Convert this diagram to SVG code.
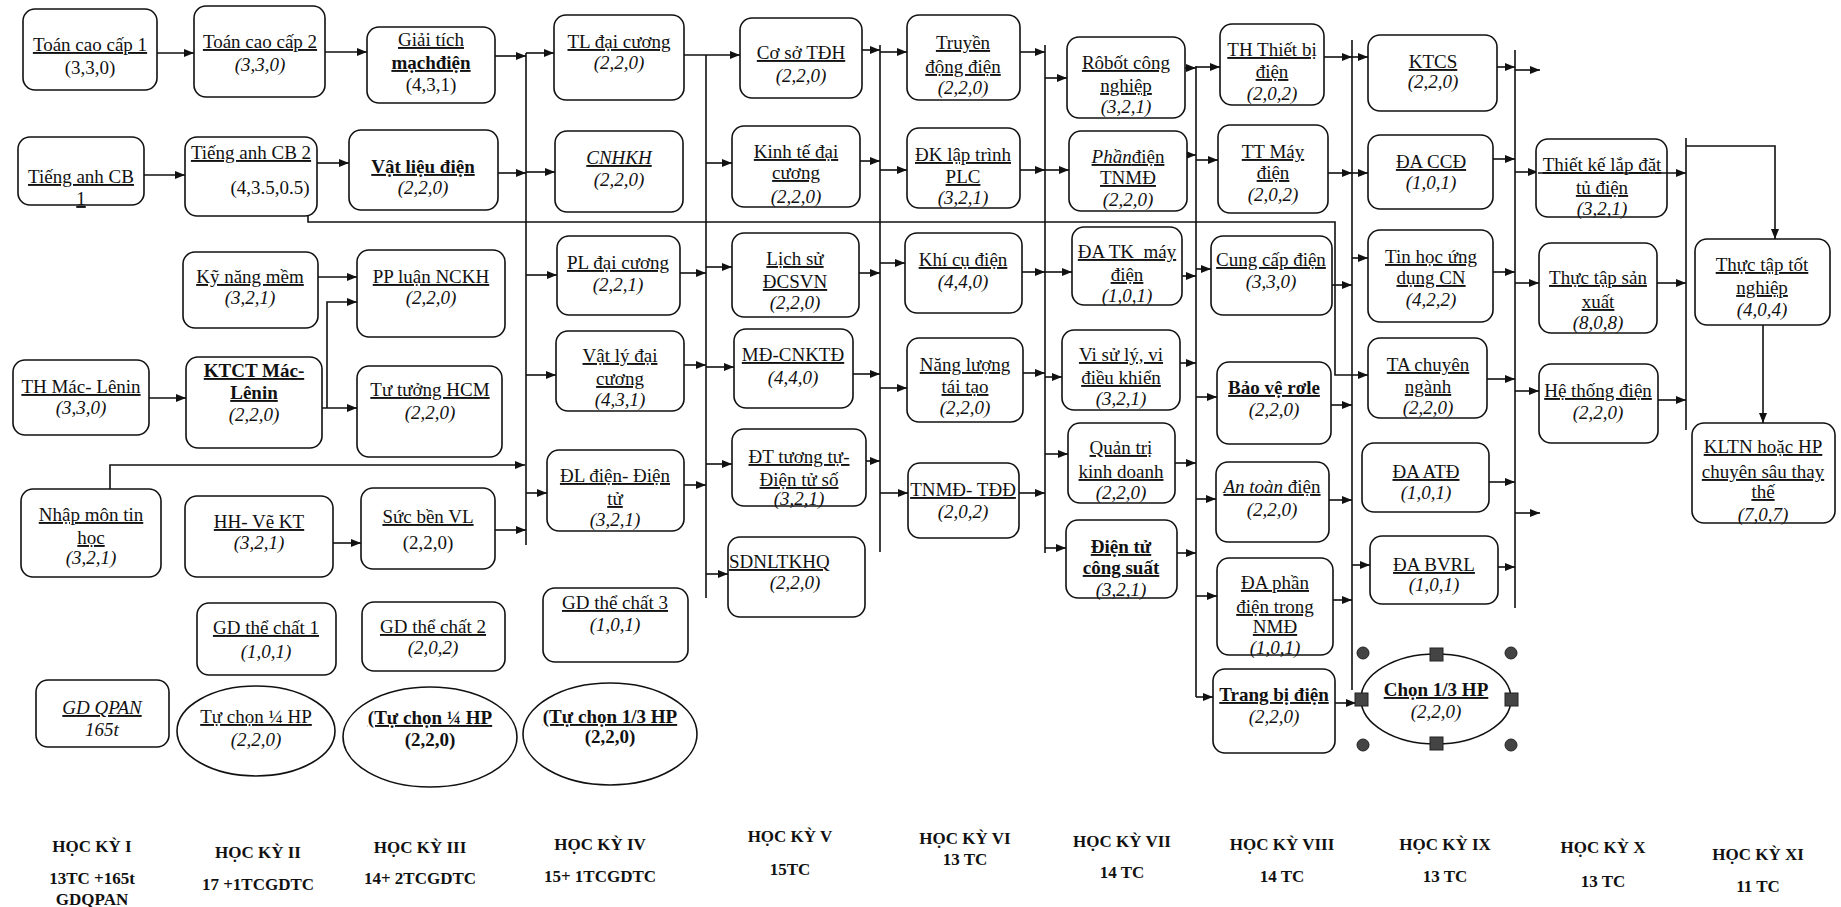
<svg xmlns="http://www.w3.org/2000/svg" width="1841" height="907" viewBox="0 0 1841 907">
<style>
.b{fill:#fff;stroke:#111;stroke-width:1.6}
.t{font-family:"Liberation Serif","Times New Roman",serif;font-size:19px;text-anchor:middle;fill:#111}
.u{text-decoration:underline}
.i{font-style:italic}
.bd{font-weight:bold}
.c{fill:none;stroke:#111;stroke-width:1.6}
.s{font-family:"Liberation Serif","Times New Roman",serif;font-size:17px;font-weight:bold;text-anchor:middle;fill:#111}
.h{fill:#444;stroke:#222;stroke-width:1}
</style>
<defs>
<marker id="a" viewBox="0 0 10 8" refX="10" refY="4" markerWidth="11" markerHeight="8" orient="auto" markerUnits="userSpaceOnUse"><path d="M0,0 L10,4 L0,8 z" fill="#111"/></marker>
</defs>
<rect width="1841" height="907" fill="#fff"/>
<g id="connectors">
<path class="c" d="M526,53 V545 M706,55 V598 M880,45 V552 M1045,45 V553 M1196,66 V697 M1352,40 V690 M1515,50 V608 M1686,138 V430"/>
<path class="c" marker-end="url(#a)" d="M157,53 H194"/>
<path class="c" marker-end="url(#a)" d="M325,52 H367"/>
<path class="c" marker-end="url(#a)" d="M144,175 H185"/>
<path class="c" marker-end="url(#a)" d="M317,163 H349"/>
<path class="c" marker-end="url(#a)" d="M318,277 H357"/>
<path class="c" marker-end="url(#a)" d="M149,398 H186"/>
<path class="c" marker-end="url(#a)" d="M322,408 H357"/>
<path class="c" marker-end="url(#a)" d="M327,408 V302 H357"/>
<path class="c" marker-end="url(#a)" d="M333,543 H361"/>
<path class="c" marker-end="url(#a)" d="M110,489 V465 H525"/>
<path class="c" marker-end="url(#a)" d="M495,56 H526"/>
<path class="c" marker-end="url(#a)" d="M498,173 H526"/>
<path class="c" marker-end="url(#a)" d="M495,530 H526"/>
<path class="c" marker-end="url(#a)" d="M526,53 H554"/>
<path class="c" marker-end="url(#a)" d="M526,172 H555"/>
<path class="c" marker-end="url(#a)" d="M526,275 H557"/>
<path class="c" marker-end="url(#a)" d="M526,375 H556"/>
<path class="c" marker-end="url(#a)" d="M526,493 H547"/>
<path class="c" marker-end="url(#a)" d="M684,55 H740"/>
<path class="c" marker-end="url(#a)" d="M680,273 H706"/>
<path class="c" marker-end="url(#a)" d="M684,365 H706"/>
<path class="c" marker-end="url(#a)" d="M684,485 H706"/>
<path class="c" marker-end="url(#a)" d="M706,163 H732"/>
<path class="c" marker-end="url(#a)" d="M706,267 H732"/>
<path class="c" marker-end="url(#a)" d="M706,367 H734"/>
<path class="c" marker-end="url(#a)" d="M706,464 H732"/>
<path class="c" marker-end="url(#a)" d="M706,574 H728"/>
<path class="c" marker-end="url(#a)" d="M862,50 H880"/>
<path class="c" marker-end="url(#a)" d="M880,52 H907"/>
<path class="c" marker-end="url(#a)" d="M860,161 H880"/>
<path class="c" marker-end="url(#a)" d="M880,170 H907"/>
<path class="c" marker-end="url(#a)" d="M859,273 H880"/>
<path class="c" marker-end="url(#a)" d="M880,263 H905"/>
<path class="c" marker-end="url(#a)" d="M853,374 H880"/>
<path class="c" marker-end="url(#a)" d="M880,388 H907"/>
<path class="c" marker-end="url(#a)" d="M866,461 H880"/>
<path class="c" marker-end="url(#a)" d="M880,493 H908"/>
<path class="c" marker-end="url(#a)" d="M1020,52 H1045"/>
<path class="c" marker-end="url(#a)" d="M1045,78 H1067"/>
<path class="c" marker-end="url(#a)" d="M1020,170 H1045"/>
<path class="c" marker-end="url(#a)" d="M1045,170 H1069"/>
<path class="c" marker-end="url(#a)" d="M1022,272 H1045"/>
<path class="c" marker-end="url(#a)" d="M1045,272 H1072"/>
<path class="c" marker-end="url(#a)" d="M1023,373 H1045"/>
<path class="c" marker-end="url(#a)" d="M1045,377 H1062"/>
<path class="c" marker-end="url(#a)" d="M1019,493 H1045"/>
<path class="c" marker-end="url(#a)" d="M1045,454 H1068"/>
<path class="c" marker-end="url(#a)" d="M1045,548 H1066"/>
<path class="c" marker-end="url(#a)" d="M1185,68 H1196"/>
<path class="c" marker-end="url(#a)" d="M1196,67 H1220"/>
<path class="c" marker-end="url(#a)" d="M1187,155 H1196"/>
<path class="c" marker-end="url(#a)" d="M1196,160 H1218"/>
<path class="c" marker-end="url(#a)" d="M1182,276 H1196"/>
<path class="c" marker-end="url(#a)" d="M1196,269 H1211"/>
<path class="c" marker-end="url(#a)" d="M1180,363 H1196"/>
<path class="c" marker-end="url(#a)" d="M1196,397 H1217"/>
<path class="c" marker-end="url(#a)" d="M1175,463 H1196"/>
<path class="c" marker-end="url(#a)" d="M1196,499 H1216"/>
<path class="c" marker-end="url(#a)" d="M1177,553 H1196"/>
<path class="c" marker-end="url(#a)" d="M1196,596 H1217"/>
<path class="c" marker-end="url(#a)" d="M1196,697 H1213"/>
<path class="c" marker-end="url(#a)" d="M1324,57 H1352"/>
<path class="c" marker-end="url(#a)" d="M1352,57 H1368"/>
<path class="c" marker-end="url(#a)" d="M1328,173 H1352"/>
<path class="c" marker-end="url(#a)" d="M1352,173 H1368"/>
<path class="c" marker-end="url(#a)" d="M1332,285 H1352"/>
<path class="c" marker-end="url(#a)" d="M1352,258 H1368"/>
<path class="c" marker-end="url(#a)" d="M1331,405 H1352"/>
<path class="c" marker-end="url(#a)" d="M1329,500 H1352"/>
<path class="c" marker-end="url(#a)" d="M1333,600 H1352"/>
<path class="c" marker-end="url(#a)" d="M1352,565 H1370"/>
<path class="c" marker-end="url(#a)" d="M308,216 V222 H1335 V375 H1368"/>
<path class="c" marker-end="url(#a)" d="M1335,703 H1356"/>
<path class="c" marker-end="url(#a)" d="M1497,67 H1515"/>
<path class="c" marker-end="url(#a)" d="M1515,70 H1540"/>
<path class="c" marker-end="url(#a)" d="M1493,159 H1515"/>
<path class="c" marker-end="url(#a)" d="M1515,172 H1538"/>
<path class="c" marker-end="url(#a)" d="M1493,272 H1515"/>
<path class="c" marker-end="url(#a)" d="M1515,283 H1539"/>
<path class="c" marker-end="url(#a)" d="M1487,379 H1515"/>
<path class="c" marker-end="url(#a)" d="M1515,391 H1539"/>
<path class="c" marker-end="url(#a)" d="M1489,482 H1515"/>
<path class="c" marker-end="url(#a)" d="M1515,513 H1540"/>
<path class="c" marker-end="url(#a)" d="M1498,567 H1515"/>
<path class="c" marker-end="url(#a)" d="M1657,283 H1686"/>
<path class="c" marker-end="url(#a)" d="M1658,400 H1686"/>
<path class="c" marker-end="url(#a)" d="M1686,146 H1775 V239"/>
<path class="c" marker-end="url(#a)" d="M1763,325 V423"/>
</g>
<g id="n1"><rect class="b" x="23" y="9" width="134" height="81" rx="12"/><text class="t u" x="90" y="51">Toán cao cấp 1</text><text class="t" x="90" y="74">(3,3,0)</text></g>
<g id="n2"><rect class="b" x="194" y="6" width="131" height="91" rx="12"/><text class="t u" x="260" y="48">Toán cao cấp 2</text><text class="t i" x="260" y="71">(3,3,0)</text></g>
<g id="n3"><rect class="b" x="367" y="27" width="128" height="76" rx="12"/><text class="t u" x="431" y="46">Giải tích</text><text class="t u bd" x="431" y="69">mạchđiện</text><text class="t" x="431" y="91">(4,3,1)</text></g>
<g id="n4"><rect class="b" x="18" y="137" width="126" height="68" rx="12"/><text class="t u" x="81" y="183">Tiếng anh CB</text><text class="t u" x="81" y="205">1</text></g>
<g id="n5"><rect class="b" x="185" y="137" width="132" height="79" rx="12"/><text class="t u" x="251" y="159">Tiếng anh CB 2</text><text class="t" x="270" y="194">(4,3.5,0.5)</text></g>
<g id="n6"><rect class="b" x="349" y="130" width="149" height="80" rx="12"/><text class="t u bd" x="423" y="173">Vật liệu điện</text><text class="t i" x="423" y="194">(2,2,0)</text></g>
<g id="n7"><rect class="b" x="183" y="252" width="135" height="76" rx="12"/><text class="t u" x="250" y="283">Kỹ năng mềm</text><text class="t i" x="250" y="304">(3,2,1)</text></g>
<g id="n8"><rect class="b" x="357" y="250" width="148" height="87" rx="12"/><text class="t u" x="431" y="283">PP luận NCKH</text><text class="t i" x="431" y="304">(2,2,0)</text></g>
<g id="n9"><rect class="b" x="13" y="360" width="136" height="75" rx="12"/><text class="t u" x="81" y="393">TH Mác- Lênin</text><text class="t i" x="81" y="414">(3,3,0)</text></g>
<g id="n10"><rect class="b" x="186" y="357" width="136" height="91" rx="12"/><text class="t u bd" x="254" y="377">KTCT Mác-</text><text class="t u bd" x="254" y="399">Lênin</text><text class="t i" x="254" y="421">(2,2,0)</text></g>
<g id="n11"><rect class="b" x="357" y="366" width="145" height="91" rx="12"/><text class="t u" x="430" y="396">Tư tưởng HCM</text><text class="t i" x="430" y="419">(2,2,0)</text></g>
<g id="n12"><rect class="b" x="21" y="489" width="140" height="88" rx="12"/><text class="t u" x="91" y="521">Nhập môn tin</text><text class="t u" x="91" y="544">học</text><text class="t i" x="91" y="564">(3,2,1)</text></g>
<g id="n13"><rect class="b" x="185" y="496" width="148" height="81" rx="12"/><text class="t u" x="259" y="528">HH- Vẽ KT</text><text class="t i" x="259" y="549">(3,2,1)</text></g>
<g id="n14"><rect class="b" x="361" y="488" width="134" height="81" rx="12"/><text class="t u" x="428" y="523">Sức bền VL</text><text class="t" x="428" y="549">(2,2,0)</text></g>
<g id="n15"><rect class="b" x="197" y="603" width="139" height="72" rx="12"/><text class="t u" x="266" y="634">GD thể chất 1</text><text class="t i" x="266" y="658">(1,0,1)</text></g>
<g id="n16"><rect class="b" x="362" y="602" width="143" height="69" rx="12"/><text class="t u" x="433" y="633">GD thể chất 2</text><text class="t i" x="433" y="654">(2,0,2)</text></g>
<g id="n17"><rect class="b" x="36" y="680" width="133" height="67" rx="12"/><text class="t u i" x="102" y="714">GD QPAN</text><text class="t i" x="102" y="736">165t</text></g>
<g id="n18"><ellipse class="b" cx="256" cy="731" rx="79" ry="45"/><text class="t u" x="256" y="723">Tự chọn ¼ HP</text><text class="t i" x="256" y="746">(2,2,0)</text></g>
<g id="n19"><ellipse class="b" cx="430" cy="737" rx="87" ry="50"/><text class="t u bd" x="430" y="724">(Tự chọn ¼ HP</text><text class="t bd" x="430" y="746">(2,2,0)</text></g>
<g id="n20"><ellipse class="b" cx="610" cy="734" rx="87" ry="51"/><text class="t u bd" x="610" y="723">(Tự chọn 1/3 HP</text><text class="t bd" x="610" y="743">(2,2,0)</text></g>
<g id="n21"><rect class="b" x="554" y="15" width="130" height="85" rx="12"/><text class="t u" x="619" y="48">TL đại cương</text><text class="t i" x="619" y="69">(2,2,0)</text></g>
<g id="n22"><rect class="b" x="555" y="131" width="128" height="81" rx="12"/><text class="t u i" x="619" y="164">CNHKH</text><text class="t i" x="619" y="186">(2,2,0)</text></g>
<g id="n23"><rect class="b" x="557" y="236" width="123" height="79" rx="12"/><text class="t u" x="618" y="269">PL đại cương</text><text class="t i" x="618" y="291">(2,2,1)</text></g>
<g id="n24"><rect class="b" x="556" y="331" width="128" height="80" rx="12"/><text class="t u" x="620" y="362">Vật lý đại</text><text class="t u" x="620" y="385">cương</text><text class="t i" x="620" y="406">(4,3,1)</text></g>
<g id="n25"><rect class="b" x="547" y="450" width="137" height="81" rx="12"/><text class="t u" x="615" y="482">ĐL điện- Điện</text><text class="t u" x="615" y="505">tử</text><text class="t i" x="615" y="526">(3,2,1)</text></g>
<g id="n26"><rect class="b" x="543" y="588" width="145" height="74" rx="12"/><text class="t u" x="615" y="609">GD thể chất 3</text><text class="t i" x="615" y="631">(1,0,1)</text></g>
<g id="n27"><rect class="b" x="740" y="18" width="122" height="80" rx="12"/><text class="t u" x="801" y="59">Cơ sở TĐH</text><text class="t i" x="801" y="82">(2,2,0)</text></g>
<g id="n28"><rect class="b" x="732" y="126" width="128" height="81" rx="12"/><text class="t u" x="796" y="158">Kinh tế đại</text><text class="t u" x="796" y="179">cương</text><text class="t i" x="796" y="203">(2,2,0)</text></g>
<g id="n29"><rect class="b" x="732" y="233" width="127" height="84" rx="12"/><text class="t u" x="795" y="265">Lịch sử</text><text class="t u" x="795" y="288">ĐCSVN</text><text class="t i" x="795" y="309">(2,2,0)</text></g>
<g id="n30"><rect class="b" x="734" y="329" width="119" height="79" rx="12"/><text class="t u" x="793" y="361">MĐ-CNKTĐ</text><text class="t i" x="793" y="384">(4,4,0)</text></g>
<g id="n31"><rect class="b" x="732" y="429" width="134" height="77" rx="12"/><text class="t u" x="799" y="463">ĐT tương tự-</text><text class="t u" x="799" y="486">Điện tử số</text><text class="t i" x="799" y="505">(3,2,1)</text></g>
<g id="n32"><rect class="b" x="728" y="537" width="137" height="80" rx="12"/><text class="t u" x="729" y="568" style="text-anchor:start">SDNLTKHQ</text><text class="t i" x="795" y="589">(2,2,0)</text></g>
<g id="n33"><rect class="b" x="907" y="15" width="113" height="85" rx="12"/><text class="t u" x="963" y="49">Truyền</text><text class="t u" x="963" y="73">động điện</text><text class="t i" x="963" y="94">(2,2,0)</text></g>
<g id="n34"><rect class="b" x="907" y="128" width="113" height="80" rx="12"/><text class="t u" x="963" y="161">ĐK lập trình</text><text class="t u" x="963" y="183">PLC</text><text class="t i" x="963" y="204">(3,2,1)</text></g>
<g id="n35"><rect class="b" x="905" y="233" width="117" height="80" rx="12"/><text class="t u" x="963" y="266">Khí cụ điện</text><text class="t i" x="963" y="288">(4,4,0)</text></g>
<g id="n36"><rect class="b" x="907" y="338" width="116" height="84" rx="12"/><text class="t u" x="965" y="371">Năng lượng</text><text class="t u" x="965" y="393">tái tạo</text><text class="t i" x="965" y="414">(2,2,0)</text></g>
<g id="n37"><rect class="b" x="908" y="463" width="111" height="75" rx="12"/><text class="t u" x="963" y="496">TNMĐ- TĐĐ</text><text class="t i" x="963" y="518">(2,0,2)</text></g>
<g id="n38"><rect class="b" x="1067" y="37" width="118" height="81" rx="12"/><text class="t u" x="1126" y="69">Rôbốt công</text><text class="t u" x="1126" y="92">nghiệp</text><text class="t i" x="1126" y="113">(3,2,1)</text></g>
<g id="n39"><rect class="b" x="1069" y="131" width="118" height="80" rx="12"/><text class="t u" x="1128" y="163"><tspan class="i">Phần</tspan>điện</text><text class="t u" x="1128" y="184">TNMĐ</text><text class="t i" x="1128" y="206">(2,2,0)</text></g>
<g id="n40"><rect class="b" x="1072" y="227" width="110" height="78" rx="12"/><text class="t u" x="1127" y="258" style="white-space:pre">ĐA TK  máy</text><text class="t u" x="1127" y="281">điện</text><text class="t i" x="1127" y="302">(1,0,1)</text></g>
<g id="n41"><rect class="b" x="1062" y="330" width="118" height="80" rx="12"/><text class="t u" x="1121" y="361">Vi sử lý, vi</text><text class="t u" x="1121" y="384">điều khiển</text><text class="t i" x="1121" y="405">(3,2,1)</text></g>
<g id="n42"><rect class="b" x="1068" y="423" width="107" height="80" rx="12"/><text class="t u" x="1121" y="454">Quản trị</text><text class="t u" x="1121" y="478">kinh doanh</text><text class="t i" x="1121" y="499">(2,2,0)</text></g>
<g id="n43"><rect class="b" x="1066" y="520" width="111" height="78" rx="12"/><text class="t u bd" x="1121" y="553">Điện tử</text><text class="t u bd" x="1121" y="574">công suất</text><text class="t i" x="1121" y="596">(3,2,1)</text></g>
<g id="n44"><rect class="b" x="1220" y="24" width="104" height="81" rx="12"/><text class="t u" x="1272" y="56">TH Thiết bị</text><text class="t u" x="1272" y="78">điện</text><text class="t i" x="1272" y="100">(2,0,2)</text></g>
<g id="n45"><rect class="b" x="1218" y="125" width="110" height="88" rx="12"/><text class="t u" x="1273" y="158">TT Máy</text><text class="t u" x="1273" y="179">điện</text><text class="t i" x="1273" y="201">(2,0,2)</text></g>
<g id="n46"><rect class="b" x="1211" y="236" width="121" height="79" rx="12"/><text class="t u" x="1271" y="266">Cung cấp điện</text><text class="t i" x="1271" y="288">(3,3,0)</text></g>
<g id="n47"><rect class="b" x="1217" y="362" width="114" height="82" rx="12"/><text class="t u bd" x="1274" y="394">Bảo vệ rơle</text><text class="t i" x="1274" y="416">(2,2,0)</text></g>
<g id="n48"><rect class="b" x="1216" y="462" width="113" height="80" rx="12"/><text class="t u" x="1272" y="493"><tspan class="i">An toàn</tspan> điện</text><text class="t i" x="1272" y="516">(2,2,0)</text></g>
<g id="n49"><rect class="b" x="1217" y="558" width="116" height="97" rx="12"/><text class="t u" x="1275" y="589">ĐA phần</text><text class="t u" x="1275" y="613">điện trong</text><text class="t u" x="1275" y="633">NMĐ</text><text class="t i" x="1275" y="654">(1,0,1)</text></g>
<g id="n50"><rect class="b" x="1213" y="669" width="122" height="84" rx="12"/><text class="t u bd" x="1274" y="701">Trang bị điện</text><text class="t i" x="1274" y="723">(2,2,0)</text></g>
<g id="n51"><rect class="b" x="1368" y="35" width="129" height="76" rx="12"/><text class="t u" x="1433" y="68">KTCS</text><text class="t i" x="1433" y="88">(2,2,0)</text></g>
<g id="n52"><rect class="b" x="1368" y="135" width="125" height="74" rx="12"/><text class="t u" x="1431" y="168">ĐA CCĐ</text><text class="t i" x="1431" y="189">(1,0,1)</text></g>
<g id="n53"><rect class="b" x="1368" y="230" width="125" height="92" rx="12"/><text class="t u" x="1431" y="263">Tin học ứng</text><text class="t u" x="1431" y="284">dụng CN</text><text class="t i" x="1431" y="306">(4,2,2)</text></g>
<g id="n54"><rect class="b" x="1368" y="338" width="119" height="80" rx="12"/><text class="t u" x="1428" y="371">TA chuyên</text><text class="t u" x="1428" y="393">ngành</text><text class="t i" x="1428" y="414">(2,2,0)</text></g>
<g id="n55"><rect class="b" x="1362" y="443" width="127" height="69" rx="12"/><text class="t u" x="1426" y="478">ĐA ATĐ</text><text class="t i" x="1426" y="499">(1,0,1)</text></g>
<g id="n56"><rect class="b" x="1370" y="536" width="128" height="68" rx="12"/><text class="t u" x="1434" y="571">ĐA BVRL</text><text class="t i" x="1434" y="591">(1,0,1)</text></g>
<g id="n57"><ellipse class="b" cx="1436" cy="699" rx="75" ry="45"/><text class="t u bd" x="1436" y="696">Chọn 1/3 HP</text><text class="t i" x="1436" y="718">(2,2,0)</text>
<rect class="h" x="1430" y="648" width="13" height="13"/><rect class="h" x="1430" y="737" width="13" height="13"/><rect class="h" x="1355" y="693" width="13" height="13"/><rect class="h" x="1505" y="693" width="13" height="13"/>
<circle class="h" cx="1363" cy="653" r="6"/><circle class="h" cx="1511" cy="653" r="6"/><circle class="h" cx="1363" cy="745" r="6"/><circle class="h" cx="1511" cy="745" r="6"/></g>
<g id="n58"><rect class="b" x="1536" y="139" width="131" height="78" rx="12"/><text class="t u" x="1602" y="171">Thiết kế lắp đặt</text><text class="t u" x="1602" y="194">tủ điện</text><text class="t i" x="1602" y="215">(3,2,1)</text></g>
<g id="n59"><rect class="b" x="1539" y="243" width="118" height="90" rx="12"/><text class="t u" x="1598" y="284">Thực tập sản</text><text class="t u" x="1598" y="308">xuất</text><text class="t i" x="1598" y="329">(8,0,8)</text></g>
<g id="n60"><rect class="b" x="1539" y="364" width="119" height="79" rx="12"/><text class="t u" x="1598" y="397">Hệ thống điện</text><text class="t i" x="1598" y="419">(2,2,0)</text></g>
<g id="n61"><rect class="b" x="1695" y="239" width="135" height="86" rx="12"/><text class="t u" x="1762" y="271">Thực tập tốt</text><text class="t u" x="1762" y="294">nghiệp</text><text class="t i" x="1762" y="316">(4,0,4)</text></g>
<g id="n62"><rect class="b" x="1692" y="423" width="143" height="100" rx="12"/><text class="t u" x="1763" y="453">KLTN hoặc HP</text><text class="t u" x="1763" y="478">chuyên sâu thay</text><text class="t u" x="1763" y="498">thế</text><text class="t i" x="1763" y="521">(7,0,7)</text></g>
<g id="through"><path class="c" marker-end="url(#a)" d="M1538,173 H1686"/></g>
<g id="semesters">
<text class="s" x="92" y="852">HỌC KỲ I</text><text class="s" x="92" y="884">13TC +165t</text><text class="s" x="92" y="905">GDQPAN</text>
<text class="s" x="258" y="858">HỌC KỲ II</text><text class="s" x="258" y="890">17 +1TCGDTC</text>
<text class="s" x="420" y="853">HỌC KỲ III</text><text class="s" x="420" y="884">14+ 2TCGDTC</text>
<text class="s" x="600" y="850">HỌC KỲ IV</text><text class="s" x="600" y="882">15+ 1TCGDTC</text>
<text class="s" x="790" y="842">HỌC KỲ V</text><text class="s" x="790" y="875">15TC</text>
<text class="s" x="965" y="844">HỌC KỲ VI</text><text class="s" x="965" y="865">13 TC</text>
<text class="s" x="1122" y="847">HỌC KỲ VII</text><text class="s" x="1122" y="878">14 TC</text>
<text class="s" x="1282" y="850">HỌC KỲ VIII</text><text class="s" x="1282" y="882">14 TC</text>
<text class="s" x="1445" y="850">HỌC KỲ IX</text><text class="s" x="1445" y="882">13 TC</text>
<text class="s" x="1603" y="853">HỌC KỲ X</text><text class="s" x="1603" y="887">13 TC</text>
<text class="s" x="1758" y="860">HỌC KỲ XI</text><text class="s" x="1758" y="892">11 TC</text>
</g>
</svg>
